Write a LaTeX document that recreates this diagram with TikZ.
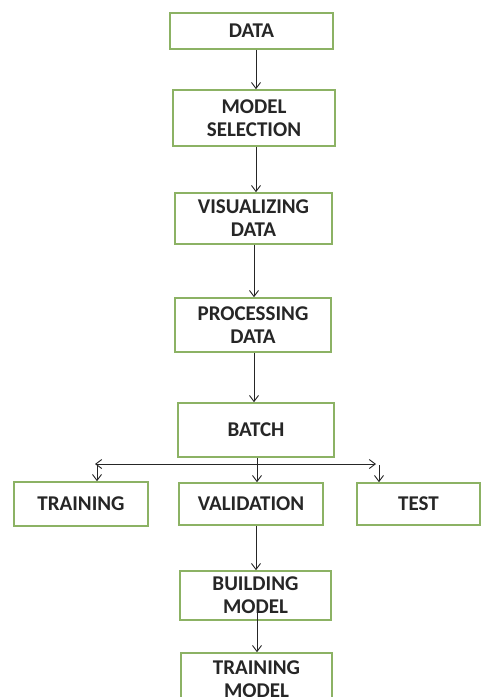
\documentclass[tikz,border=0pt]{standalone}
\usepackage{fontspec}
\setmainfont{Carlito}
\usetikzlibrary{arrows.meta}
\definecolor{boxgreen}{RGB}{140,178,100}
\begin{document}
\begin{tikzpicture}[x=1pt,y=-1pt,
  box/.style={draw=boxgreen,line width=1.6pt,fill=white,align=center,inner sep=0pt,
    font=\fontsize{21}{23}\selectfont\bfseries,text=black!85},
  arr/.style={draw=black!85,line width=0.9pt,-{Straight Barb[length=6pt,width=9pt]}}]
\clip (0,0) rectangle (481,697);
\fill[white] (0,0) rectangle (481,697);
\node[box,minimum width=163pt,minimum height=36pt] (data) at (251.5,31) {DATA};
\node[box,minimum width=162pt,minimum height=56pt] (msel) at (254,118) {MODEL\\SELECTION};
\node[box,minimum width=157pt,minimum height=51pt] (vis) at (253.5,218.5) {VISUALIZING\\DATA};
\node[box,minimum width=156pt,minimum height=54pt] (proc) at (253,325) {PROCESSING\\DATA};
\node[box,minimum width=156pt,minimum height=54pt] (batch) at (256,430) {BATCH};
\node[box,minimum width=134pt,minimum height=44pt] (train) at (81,504) {TRAINING};
\node[box,minimum width=144pt,minimum height=42pt] (valid) at (251,504) {VALIDATION};
\node[box,minimum width=123pt,minimum height=42pt] (test) at (418.5,504) {TEST};
\node[box,minimum width=151pt,minimum height=49pt] (build) at (255.5,595.5) {BUILDING\\MODEL};
\node[box,minimum width=151pt,minimum height=52pt] (tmodel) at (256.5,679) {TRAINING\\MODEL};
\coordinate (dA) at (256,0);
\coordinate (dB) at (254,0);
\coordinate (dC) at (257,0);
\coordinate (hy) at (0,464);
\coordinate (bl) at (95,464);
\coordinate (br) at (376,464);
\coordinate (tl) at (97,464);
\coordinate (tr) at (379,465);
\coordinate (bt) at (257,608);
\draw[arr] (data.south -| dA) -- (msel.north -| dA);
\draw[arr] (msel.south -| dA) -- (vis.north -| dA);
\draw[arr] (vis.south -| dB) -- (proc.north -| dB);
\draw[arr] (proc.south -| dB) -- (batch.north -| dB);
\draw[arr] (batch.south -| dC) -- (valid.north -| dC);
\draw[arr] (hy -| dC) -- (bl);
\draw[arr] (hy -| dC) -- (br);
\draw[arr] (tl) -- (train.north -| tl);
\draw[arr] (tr) -- (test.north -| tr);
\draw[arr] (valid.south -| dA) -- (build.north -| dA);
\draw[arr] (bt) -- (tmodel.north -| bt);
\end{tikzpicture}
\end{document}
